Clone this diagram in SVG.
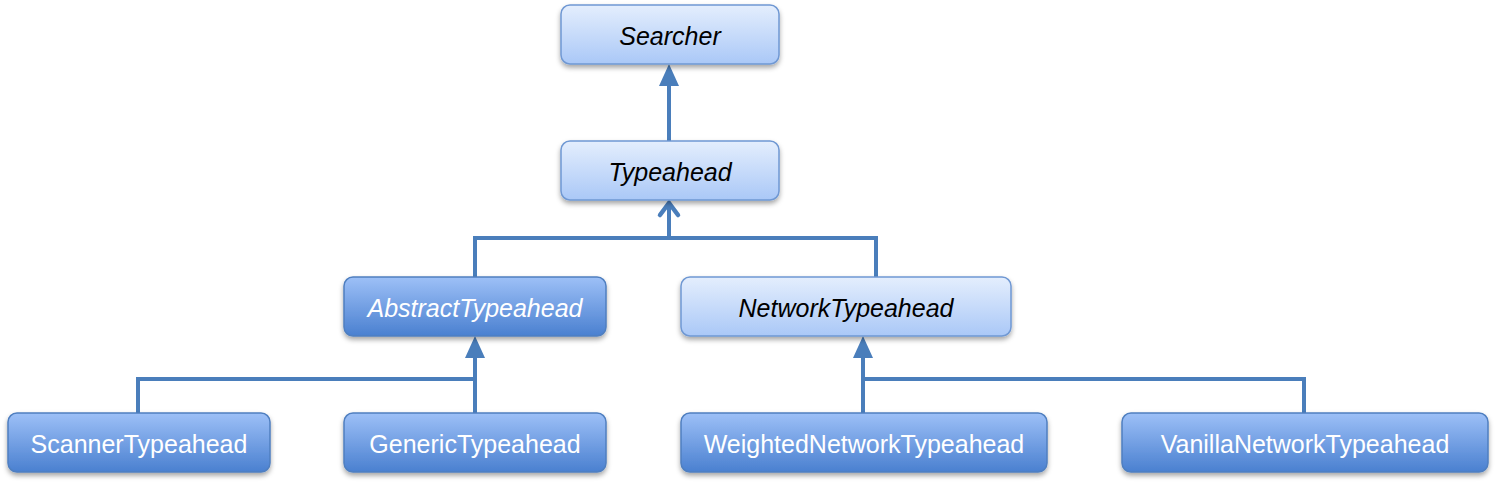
<svg xmlns="http://www.w3.org/2000/svg" width="1496" height="485" viewBox="0 0 1496 485">
<defs>
<linearGradient id="gLight" x1="0" y1="0" x2="0" y2="1">
<stop offset="0" stop-color="#e4eefd"/>
<stop offset="1" stop-color="#aac8f7"/>
</linearGradient>
<linearGradient id="gDark" x1="0" y1="0" x2="0" y2="1">
<stop offset="0" stop-color="#9dc0f7"/>
<stop offset="1" stop-color="#4a80d0"/>
</linearGradient>
<filter id="sh" x="-10%" y="-20%" width="120%" height="150%">
<feDropShadow dx="0" dy="3" stdDeviation="2.5" flood-color="#000" flood-opacity="0.35"/>
</filter>
</defs>
<style>
.light rect{fill:url(#gLight);stroke:#6f98d3;stroke-width:1.5;filter:url(#sh)}
.dark rect{fill:url(#gDark);stroke:#4f7fc0;stroke-width:1.5;filter:url(#sh)}
text{font-family:"Liberation Sans",Arial,sans-serif;font-size:25px;text-anchor:middle}
.light text{fill:#000}
.dark text{fill:#fff}
.it{font-style:italic}
.conn path{fill:none;stroke:#4a7ebb;stroke-width:4;stroke-linejoin:miter}
.conn path.head{fill:#4a7ebb;stroke:none}
</style>
<g class="conn" id="connectors">
<path d="M669,141 V85"/>
<path class="head" d="M659,86 L669,64 L679,86 Z"/>
<path d="M475,277 V238 H876 V277"/>
<path d="M669,238 V203"/>
<path d="M660,215 L669,203 L678,215" stroke-linecap="round" style="stroke-width:4.5"/>
<path d="M138,413 V379 H475"/>
<path d="M475,413 V357"/>
<path class="head" d="M465,358 L475,336 L485,358 Z"/>
<path d="M863,413 V357"/>
<path d="M863,379 H1304 V413"/>
<path class="head" d="M853,358 L863,336 L873,358 Z"/>
</g>
<g id="searcher" class="light">
<rect x="561" y="5" width="218" height="59" rx="9"/>
<text class="it" x="670" y="45">Searcher</text>
</g>
<g id="typeahead" class="light">
<rect x="561" y="141" width="218" height="59" rx="9"/>
<text class="it" x="670" y="181">Typeahead</text>
</g>
<g id="abstractTypeahead" class="dark">
<rect x="344" y="277" width="262" height="59" rx="9"/>
<text class="it" x="475" y="317">AbstractTypeahead</text>
</g>
<g id="networkTypeahead" class="light">
<rect x="681" y="277" width="330" height="59" rx="9"/>
<text class="it" x="846" y="317">NetworkTypeahead</text>
</g>
<g id="scannerTypeahead" class="dark">
<rect x="8" y="413" width="262" height="59" rx="9"/>
<text x="139" y="453">ScannerTypeahead</text>
</g>
<g id="genericTypeahead" class="dark">
<rect x="344" y="413" width="262" height="59" rx="9"/>
<text x="475" y="453">GenericTypeahead</text>
</g>
<g id="weightedNetworkTypeahead" class="dark">
<rect x="681" y="413" width="366" height="59" rx="9"/>
<text x="864" y="453">WeightedNetworkTypeahead</text>
</g>
<g id="vanillaNetworkTypeahead" class="dark">
<rect x="1122" y="413" width="366" height="59" rx="9"/>
<text x="1305" y="453">VanillaNetworkTypeahead</text>
</g>
</svg>
